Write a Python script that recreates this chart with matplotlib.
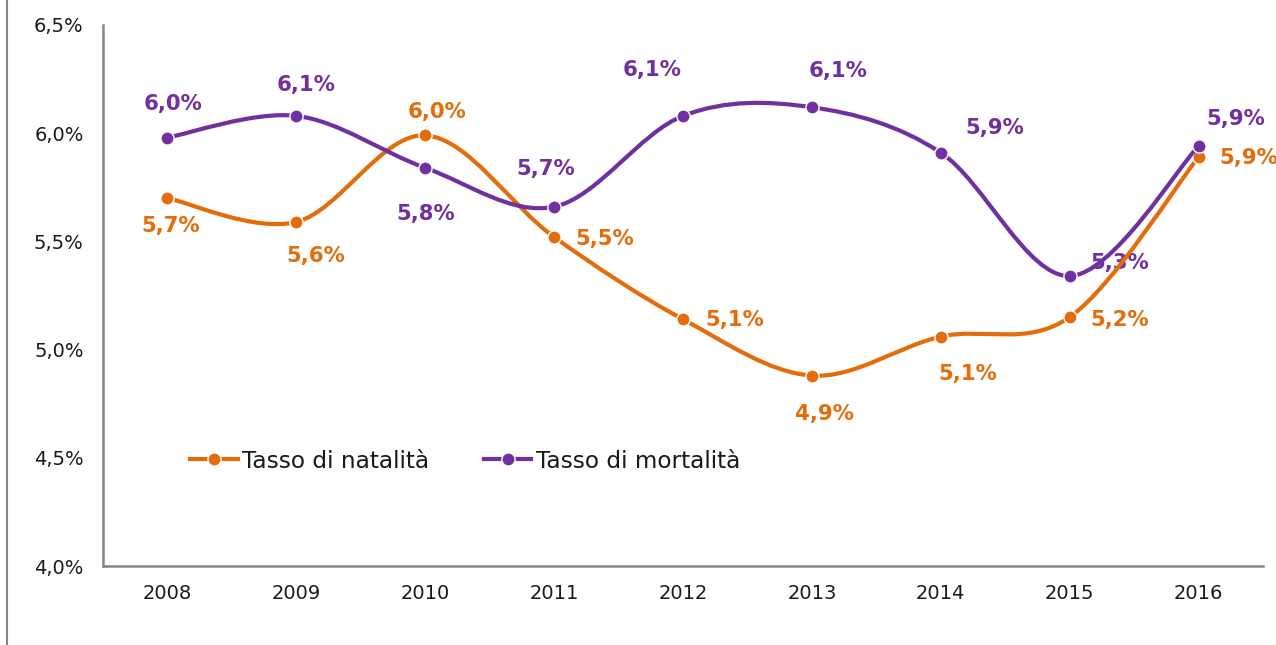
import numpy as np
import matplotlib
matplotlib.use("Agg")
import matplotlib.pyplot as plt
from matplotlib.path import Path
from matplotlib.patches import PathPatch
from matplotlib.lines import Line2D

# ---- data ----
years = ["2008", "2009", "2010", "2011", "2012", "2013", "2014", "2015", "2016"]
natalita = [5.70, 5.59, 5.99, 5.52, 5.14, 4.88, 5.06, 5.15, 5.89]
mortalita = [5.98, 6.08, 5.84, 5.66, 6.08, 6.12, 5.91, 5.34, 5.94]
natalita_labels = ["5,7%", "5,6%", "6,0%", "5,5%", "5,1%", "4,9%", "5,1%", "5,2%", "5,9%"]
mortalita_labels = ["6,0%", "6,1%", "5,8%", "5,7%", "6,1%", "6,1%", "5,9%", "5,3%", "5,9%"]
yticks = [4.0, 4.5, 5.0, 5.5, 6.0, 6.5]
ytick_labels = ["4,0%", "4,5%", "5,0%", "5,5%", "6,0%", "6,5%"]
series_names = ["Tasso di natalità", "Tasso di mortalità"]

# ---- layout / style (pixel offsets of labels, px right / px down) ----
nat_offsets = [(3, 28), (19, 34), (12, -23), (51, 2), (52, 1), (13, 38), (27, 37), (50, 3), (50, 1)]
mor_offsets = [(6, -34), (10, -31), (0, 46), (-8, -38), (-31, -46), (26, -36), (54, -25), (50, -13), (37, -27)]
ORANGE = "#E46C0A"
PURPLE = "#7030A0"
GRID = "#868686"

W, H, DPI = 1276, 645, 100
fig = plt.figure(figsize=(W / DPI, H / DPI), dpi=DPI)
plt.rcParams["font.family"] = ["DejaVu Sans"]
ax = fig.add_axes([103 / W, (H - 566) / H, (1263 - 103) / W, (566 - 25) / H])

x = np.arange(len(years))


def smooth_path(xs, ys):
    pts = np.column_stack([xs, ys]).astype(float)
    n = len(pts)
    verts = [pts[0]]
    codes = [Path.MOVETO]
    for i in range(n - 1):
        p0 = pts[i - 1] if i > 0 else pts[i]
        p1 = pts[i]
        p2 = pts[i + 1]
        p3 = pts[i + 2] if i + 2 < n else pts[i + 1]
        c1 = p1 + (p2 - p0) / 6.0
        c2 = p2 - (p3 - p1) / 6.0
        verts += [c1, c2, p2]
        codes += [Path.CURVE4] * 3
    return Path(verts, codes)


lw = 3.0
ms = 9.5
for vals, col, z in [(natalita, ORANGE, 3), (mortalita, PURPLE, 4)]:
    patch = PathPatch(smooth_path(x, vals), facecolor="none", edgecolor=col,
                      lw=lw, zorder=z, capstyle="round")
    ax.add_patch(patch)
    ax.plot(x, vals, linestyle="none", marker="o", ms=ms, color=col,
            markeredgecolor="white", markeredgewidth=1.0, zorder=z + 0.5)

for vals, labs, offs, col in [(natalita, natalita_labels, nat_offsets, ORANGE),
                              (mortalita, mortalita_labels, mor_offsets, PURPLE)]:
    for xi, v, lab, (dx, dy) in zip(x, vals, labs, offs):
        ax.annotate(lab, (xi, v), xytext=(dx * 0.72, -dy * 0.72), textcoords="offset points",
                    ha="center", va="center", fontsize=15.3, fontweight="bold",
                    color=col, zorder=2)

ax.set_xlim(-0.5, len(years) - 0.5)
ax.set_ylim(4.0, 6.5)
ax.set_xticks(x)
ax.set_xticklabels(years)
ax.set_yticks(yticks)
ax.set_yticklabels(ytick_labels)
ax.tick_params(axis="both", length=0, labelsize=14, colors="#1a1a1a")
ax.tick_params(axis="y", pad=14)
ax.tick_params(axis="x", pad=13)
for s in ["top", "right"]:
    ax.spines[s].set_visible(False)
for s in ["left", "bottom"]:
    ax.spines[s].set_color(GRID)
    ax.spines[s].set_linewidth(1.8)

handles = [Line2D([], [], color=ORANGE, lw=lw, marker="o", ms=ms, markeredgecolor="white",
                  markeredgewidth=1.0),
           Line2D([], [], color=PURPLE, lw=lw, marker="o", ms=ms, markeredgecolor="white",
                  markeredgewidth=1.0)]
leg = ax.legend(handles, series_names, loc="center left",
                bbox_to_anchor=((190 - 103) / 1160, (566 - 461) / 541),
                ncol=2, frameon=False, fontsize=16.7, handlelength=2.05,
                handletextpad=0.2, columnspacing=2.35, borderpad=0, borderaxespad=0)
for t in leg.get_texts():
    t.set_color("#1a1a1a")

fig.add_artist(Line2D([7 / W, 7 / W], [0, 1], transform=fig.transFigure,
                      color=GRID, lw=1.5))

fig.savefig("out.png", dpi=DPI)
